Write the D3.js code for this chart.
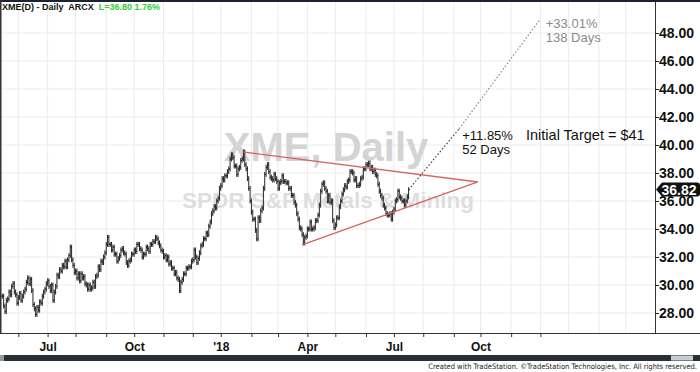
<!DOCTYPE html>
<html>
<head>
<meta charset="utf-8">
<script src="https://cdnjs.cloudflare.com/ajax/libs/d3/7.8.5/d3.min.js"></script>
<style>
  html, body { margin: 0; padding: 0; background: #fff; }
  svg { display: block; font-family: Arial, "Liberation Sans", sans-serif; }
</style>
</head>
<body>
<svg id="chart" width="700" height="372"></svg>
<script>
// ---- data ----
const headerLeft = 'XME(D) - Daily  ARCX';
const headerQuote = 'L=36.80  1.76%';
const watermarkTitle = 'XME, Daily';
const watermarkName = 'SPDR S&P Metals & Mining';

const firstBarDate = new Date(2017, 4, 16);
// daily closes, one per trading day from firstBarDate
const closes = [
  29.2, 28.5, 28.1, 28.9, 29.0, 29.5, 29.3, 29.9, 30.1, 29.5,
  29.3, 28.7, 29.1, 29.4, 28.9, 29.2, 29.5, 29.7, 30.2, 30.5,
  30.1, 30.4, 29.6, 28.6, 28.3, 27.9, 28.4, 28.2, 28.8, 28.7,
  29.2, 29.5, 29.7, 30.1, 30.3, 29.9, 29.6, 30.0, 28.9, 29.5,
  29.9, 30.7, 30.6, 31.1, 31.0, 31.4, 31.3, 31.7, 31.3, 31.8,
  32.1, 32.7, 31.8, 31.4, 30.9, 31.0, 30.5, 30.8, 30.3, 30.8,
  30.5, 30.6, 30.1, 30.0, 29.7, 30.0, 29.7, 29.8, 30.2, 29.9,
  30.6, 30.7, 31.3, 31.1, 31.7, 31.6, 32.0, 32.3, 32.9, 33.4,
  32.9, 32.9, 32.5, 32.7, 32.2, 32.2, 31.7, 31.9, 32.1, 32.5,
  32.6, 32.3, 32.2, 31.6, 31.4, 31.7, 31.8, 32.2, 32.2, 32.5,
  32.4, 32.9, 32.9, 32.6, 32.5, 32.0, 32.2, 32.2, 32.7, 32.6,
  32.4, 32.9, 32.9, 33.1, 33.1, 33.4, 33.3, 33.0, 32.8, 32.5,
  32.4, 32.0, 32.1, 31.8, 32.0, 31.5, 31.6, 31.2, 31.2, 30.8,
  30.9, 30.5, 30.4, 29.6, 30.2, 30.4, 30.8, 30.8, 31.2, 31.2,
  31.3, 31.3, 31.7, 31.8, 32.5, 32.0, 31.6, 31.9, 32.3, 32.8,
  32.9, 33.3, 33.3, 33.7, 33.6, 34.2, 34.5, 35.1, 35.3, 35.6,
  35.5, 36.0, 36.2, 36.9, 37.1, 37.6, 37.5, 37.8, 37.8, 38.1,
  38.3, 39.0, 39.3, 39.1, 38.5, 38.5, 37.9, 38.3, 38.4, 38.9,
  39.0, 39.5, 38.6, 38.3, 37.6, 36.9, 36.0, 35.2, 34.7, 34.7,
  33.9, 33.3, 34.8, 34.6, 35.3, 35.5, 36.9, 37.9, 38.4, 38.6,
  38.1, 37.7, 37.6, 37.5, 37.9, 37.6, 37.4, 36.9, 37.3, 37.4,
  37.8, 37.4, 37.4, 37.3, 37.3, 36.9, 36.9, 36.4, 36.4, 35.9,
  35.7, 35.1, 34.7, 34.1, 34.0, 33.6, 33.0, 33.4, 33.5, 34.0,
  34.0, 34.5, 34.0, 34.0, 34.1, 34.6, 34.6, 35.0, 35.7, 36.7,
  37.2, 37.3, 36.9, 36.7, 36.0, 36.4, 35.9, 36.0, 34.6, 34.1,
  34.3, 34.8, 34.8, 35.6, 36.0, 36.5, 36.8, 37.1, 37.0, 37.4,
  37.5, 38.1, 38.1, 38.0, 37.5, 37.6, 37.1, 37.1, 37.2, 37.6,
  37.7, 38.3, 38.3, 38.6, 38.6, 38.7, 38.3, 38.4, 38.1, 38.2,
  37.9, 37.8, 37.2, 36.7, 36.4, 36.2, 35.7, 35.5, 35.1, 35.0,
  35.0, 35.1, 34.7, 35.2, 35.4, 36.0, 36.1, 36.7, 36.3, 36.2,
  36.0, 36.0, 35.7, 36.0, 36.3, 36.8
];
const lastQuote = 36.82;

const priceTicks = [28, 30, 32, 34, 36, 38, 40, 42, 44, 46, 48];
const quarterLabels = ['Jul', 'Oct', "'18", 'Apr', 'Jul', 'Oct'];
const quarterDates = [new Date(2017, 6, 1), new Date(2017, 9, 1), new Date(2018, 0, 1),
                      new Date(2018, 3, 1), new Date(2018, 6, 1), new Date(2018, 9, 1)];

// symmetrical triangle
const triangleDates = [new Date(2018, 0, 24), new Date(2018, 8, 27), new Date(2018, 2, 27)];
const trianglePrices = [39.5, 37.36, 32.86];

// projections from the last bar
const targetPct = [11.85, 33.01];
const targetDays = [52, 138];
const targetText = ['Initial Target = $41'];

// ---- scales ----
const baseDate = new Date(2017, 4, 15); // a Monday
function dayIndex(d) {
  const days = Math.round((d - baseDate) / 864e5);
  const wk = Math.floor(days / 7), dow = days - wk * 7;
  return wk * 5 + Math.min(dow, 5);
}

const W = 700, H = 372, plotRight = 655, plotTop = 2, plotBottom = 333;
const x = d3.scaleLinear().domain([0, 491]).range([1, plotRight]);
const y = d3.scaleLinear().domain([28, 48]).range([313, 33]);

const svg = d3.select('#chart');
svg.append('rect').attr('width', W).attr('height', H).attr('fill', '#fff');

// grid
const gridMonths = d3.timeMonths(new Date(2017, 5, 1), new Date(2019, 3, 1));
const grid = svg.append('g');
grid.selectAll('line.v').data(gridMonths).join('line')
  .attr('x1', d => x(dayIndex(d))).attr('x2', d => x(dayIndex(d)))
  .attr('y1', plotTop).attr('y2', plotBottom)
  .attr('stroke', '#ececec').attr('stroke-width', 1);
grid.selectAll('line.h').data(priceTicks).join('line')
  .attr('x1', 0).attr('x2', plotRight)
  .attr('y1', d => y(d)).attr('y2', d => y(d))
  .attr('stroke', '#ececec').attr('stroke-width', 1);

// watermark
svg.append('text').attr('x', 326).attr('y', 161).attr('text-anchor', 'middle')
  .attr('font-size', 40).attr('font-weight', 'bold').attr('fill', '#d4d4d4')
  .text(watermarkTitle);
svg.append('text').attr('x', 328).attr('y', 208).attr('text-anchor', 'middle')
  .attr('font-size', 22.5).attr('font-weight', 'bold').attr('fill', '#dedede')
  .text(watermarkName);

// bars: open = previous close
const firstIdx = dayIndex(firstBarDate);
const bars = closes.map((c, k) => {
  const o = k ? closes[k - 1] : c;
  return { i: firstIdx + k, o: o, c: c, hi: Math.max(o, c) + 0.18, lo: Math.min(o, c) - 0.18 };
});
const barG = svg.append('g').attr('stroke', '#262626').attr('stroke-width', 1);
barG.selectAll('line.hl').data(bars).join('line')
  .attr('x1', d => x(d.i)).attr('x2', d => x(d.i))
  .attr('y1', d => y(d.hi)).attr('y2', d => y(d.lo));
barG.selectAll('line.op').data(bars).join('line')
  .attr('x1', d => x(d.i) - 1.3).attr('x2', d => x(d.i))
  .attr('y1', d => y(d.o)).attr('y2', d => y(d.o));
barG.selectAll('line.cl').data(bars).join('line')
  .attr('x1', d => x(d.i)).attr('x2', d => x(d.i) + 1.3)
  .attr('y1', d => y(d.c)).attr('y2', d => y(d.c));

// triangle
const tri = triangleDates.map((d, k) => [x(dayIndex(d)), y(trianglePrices[k])]);
svg.append('path').attr('d', d3.line()(tri))
  .attr('fill', 'none').attr('stroke', '#d9645f').attr('stroke-width', 1.4);

// projections
const lastIdx = firstIdx + closes.length - 1;
const lastClose = closes[closes.length - 1];
const projPts = [[x(lastIdx), y(lastClose)]].concat(targetPct.map((p, k) => {
  const d = new Date(2018, 6, 17 + targetDays[k]);
  return [x(dayIndex(d) - (d.getDay() === 0 || d.getDay() === 6 ? 0.5 : 0)), y(lastClose * (1 + p / 100))];
}));
const projColors = ['#444', '#8a8a8a'];
for (let k = 0; k < 2; k++) {
  svg.append('line')
    .attr('x1', projPts[k][0]).attr('y1', projPts[k][1])
    .attr('x2', projPts[k + 1][0]).attr('y2', projPts[k + 1][1])
    .attr('stroke', projColors[k]).attr('stroke-width', 1.2)
    .attr('stroke-dasharray', '1.5,2');
}
const ann = svg.append('g').attr('font-size', 13);
ann.append('text').attr('x', projPts[1][0] + 3).attr('y', 140).attr('fill', '#111')
  .text('+' + targetPct[0].toFixed(2) + '%');
ann.append('text').attr('x', projPts[1][0] + 3).attr('y', 154).attr('fill', '#111')
  .text(targetDays[0] + ' Days');
ann.append('text').attr('x', projPts[2][0] + 6).attr('y', 28).attr('fill', '#8a8a8a')
  .text('+' + targetPct[1].toFixed(2) + '%');
ann.append('text').attr('x', projPts[2][0] + 6).attr('y', 42).attr('fill', '#8a8a8a')
  .text(targetDays[1] + ' Days');
svg.append('text').attr('x', 526).attr('y', 140).attr('font-size', 14.5).attr('fill', '#111')
  .text(targetText[0]);

// frame
svg.append('rect').attr('x', 0).attr('y', 0).attr('width', W).attr('height', 2).attr('fill', '#1c2330');
svg.append('rect').attr('x', 0).attr('y', 0).attr('width', 1.5).attr('height', plotBottom).attr('fill', '#333');
svg.append('line').attr('x1', plotRight + 0.5).attr('x2', plotRight + 0.5)
  .attr('y1', plotTop).attr('y2', plotBottom).attr('stroke', '#333');
svg.append('line').attr('x1', 0).attr('x2', W)
  .attr('y1', plotBottom + 0.5).attr('y2', plotBottom + 0.5).attr('stroke', '#333');

// price axis (the quote marker is drawn over 36.00, as in the original)
const yAxis = svg.append('g').attr('transform', `translate(${plotRight},0)`)
  .call(d3.axisRight(y).tickValues(priceTicks).tickSize(4).tickPadding(0).tickFormat(d3.format('.2f')));
yAxis.select('.domain').remove();
yAxis.selectAll('line').attr('stroke', '#222');
yAxis.selectAll('text').attr('font-size', 14).attr('font-weight', 'bold').attr('fill', '#111')
  .attr('font-family', 'Arial, "Liberation Sans", sans-serif');

// time axis
const tickMonths = d3.timeMonths(new Date(2017, 5, 1), new Date(2019, 0, 1));
const labelOf = new Map(quarterDates.map((d, k) => [dayIndex(d), quarterLabels[k]]));
const xAxis = svg.append('g').attr('transform', `translate(0,${plotBottom})`)
  .call(d3.axisBottom(x).tickValues(tickMonths.map(dayIndex)).tickSize(4)
    .tickFormat(i => labelOf.get(i) || ''));
xAxis.select('.domain').remove();
xAxis.selectAll('line').attr('stroke', '#333');
xAxis.selectAll('text').attr('y', 18).attr('dy', 0).attr('font-size', 12).attr('font-weight', 'bold')
  .attr('fill', '#111').attr('font-family', 'Arial, "Liberation Sans", sans-serif');

// last quote marker
const qy = y(lastQuote);
svg.append('path')
  .attr('d', `M${plotRight + 1},${qy} L${plotRight + 7},${qy - 7} L${W - 3},${qy - 7} Q${W},${qy - 7} ${W},${qy - 4} L${W},${qy + 4} Q${W},${qy + 7} ${W - 3},${qy + 7} L${plotRight + 7},${qy + 7} Z`)
  .attr('fill', '#111');
svg.append('text').attr('x', 679).attr('y', qy + 5).attr('text-anchor', 'middle')
  .attr('font-size', 14).attr('font-weight', 'bold').attr('fill', '#fff')
  .text(lastQuote.toFixed(2));

// header
const hdr = svg.append('text').attr('x', 2).attr('y', 10).attr('font-size', 9).attr('font-weight', 'bold');
hdr.append('tspan').attr('fill', '#111').attr('xml:space', 'preserve').text(headerLeft + '  ');
hdr.append('tspan').attr('fill', '#2fcf2f').text(headerQuote);

// scrollbar + footer
svg.append('rect').attr('x', 0).attr('y', 355).attr('width', W).attr('height', 6).attr('fill', '#2a2e36');
svg.append('rect').attr('x', 0).attr('y', 355).attr('width', 4).attr('height', 6).attr('fill', '#9a9a9a');
svg.append('rect').attr('x', 671).attr('y', 355.5).attr('width', 22).attr('height', 5).attr('fill', '#c8cdd3');
svg.append('text').attr('x', 697).attr('y', 368.5).attr('text-anchor', 'end')
  .attr('font-size', 7.5).attr('fill', '#222')
  .attr('font-family', '"Liberation Sans Narrow", "Arial Narrow", "DejaVu Sans Condensed", sans-serif')
  .text('Created with TradeStation. \u00A9TradeStation Technologies, Inc. All rights reserved.');
</script>
</body>
</html>
